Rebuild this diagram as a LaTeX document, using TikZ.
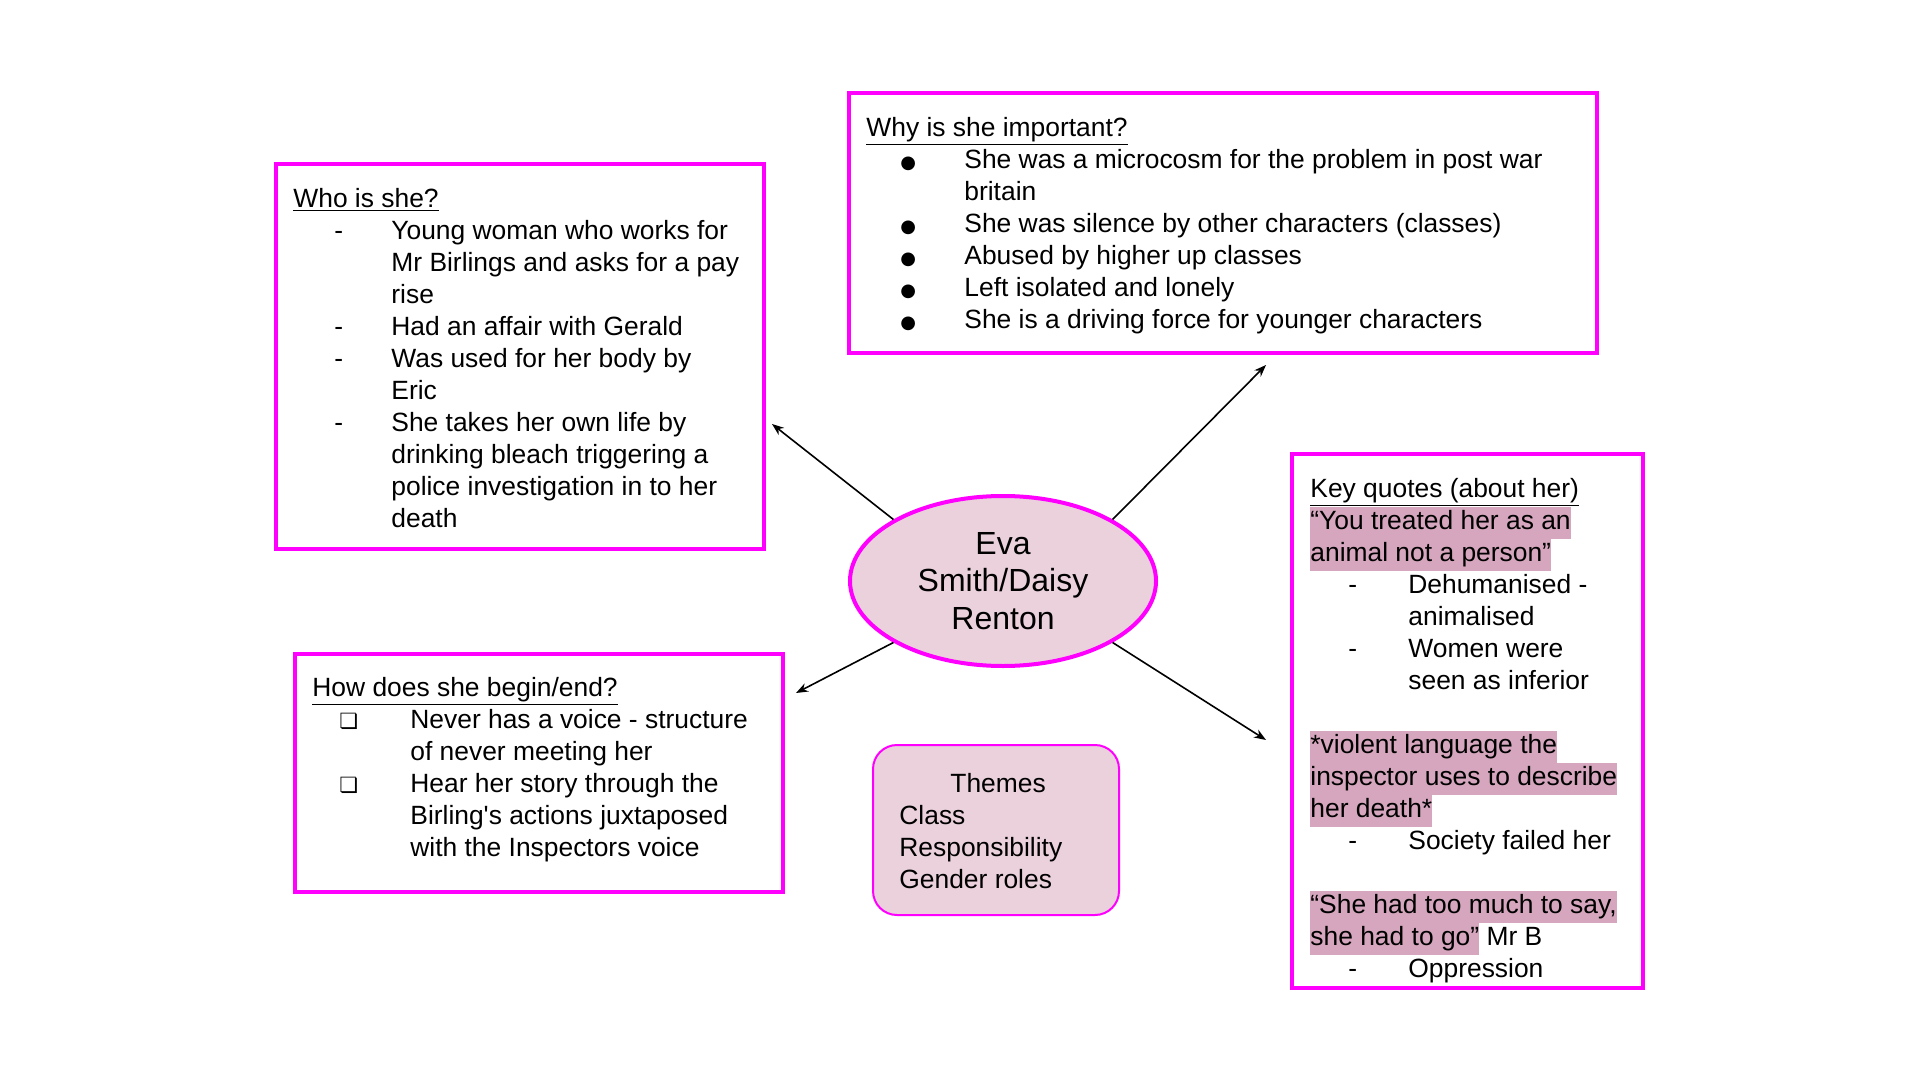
\documentclass[tikz,border=0pt]{standalone}
\usepackage{fontspec}
\setmainfont{Liberation Sans}
\newfontfamily\dingfont{DejaVu Sans}
\usetikzlibrary{shapes.geometric,arrows.meta}

\definecolor{framepink}{HTML}{FF00FF}
\definecolor{softpink}{HTML}{EAD1DC}
\definecolor{quotepink}{HTML}{D5A6BD}

% marker + hanging indent for the list lines
\newcommand{\mk}[2]{\makebox[49pt][l]{\hspace*{#1}#2}}
\newcommand{\ind}{\hspace*{49pt}}
\newcommand{\hl}[1]{{\fboxsep=0pt\colorbox{quotepink}{\strut #1}}}
\newcommand{\sqmark}{{\dingfont\fontsize{10.5}{10.5}\selectfont ❏}}
\newcommand{\dotmark}{{\dingfont\fontsize{9}{9}\selectfont ●}}

\begin{document}
\begin{tikzpicture}[x=0.5pt,y=-0.5pt,
    frame/.style={draw=framepink, line width=2pt},
    listtext/.style={anchor=north west, inner sep=0pt, align=left,
        font=\fontsize{13.2}{16}\selectfont},
    hub/.style={ellipse, draw=framepink, line width=2pt, fill=softpink,
        minimum width=153pt, minimum height=85pt, inner sep=0pt, align=center,
        font=\fontsize{16}{18.75}\selectfont},
    link/.style={-{Stealth[length=6pt,width=4.5pt]}, line width=0.8pt}]
\fill[white] (0,0) rectangle (1920,1080);
\useasboundingbox (0,0) rectangle (1920,1080);

% boxes
\draw[frame] (276,164) rectangle (764,549);
\draw[frame] (849,93) rectangle (1597,353);
\draw[frame] (1292,454) rectangle (1643,988);
\draw[frame] (295,654) rectangle (783,892);
\draw[draw=framepink, line width=1pt, fill=softpink, rounded corners=12pt]
    (873,745) rectangle (1119,915);

\node[listtext] (who) at (293,188) {\underline{Who is she?}\\
\mk{20.5pt}{-}Young woman who works for\\
\ind Mr Birlings and asks for a pay\\
\ind rise\\
\mk{20.5pt}{-}Had an affair with Gerald\\
\mk{20.5pt}{-}Was used for her body by\\
\ind Eric\\
\mk{20.5pt}{-}She takes her own life by\\
\ind drinking bleach triggering a\\
\ind police investigation in to her\\
\ind death};

\node[listtext] (why) at (866,117) {\underline{Why is she important?}\\
\mk{17pt}{\dotmark}She was a microcosm for the problem in post war\\
\ind britain\\
\mk{17pt}{\dotmark}She was silence by other characters (classes)\\
\mk{17pt}{\dotmark}Abused by higher up classes\\
\mk{17pt}{\dotmark}Left isolated and lonely\\
\mk{17pt}{\dotmark}She is a driving force for younger characters};

\node[listtext] (quotes) at (1310,478) {\underline{Key quotes (about her)}\\
\hl{“You treated her as an}\\
\hl{animal not a person”}\\
\mk{19pt}{-}Dehumanised -\\
\ind animalised\\
\mk{19pt}{-}Women were\\
\ind seen as inferior\\
\mbox{}\\
\hl{*violent language the}\\
\hl{inspector uses to describe}\\
\hl{her death*}\\
\mk{19pt}{-}Society failed her\\
\mbox{}\\
\hl{“She had too much to say,}\\
\hl{she had to go”} Mr B\\
\mk{19pt}{-}Oppression};

\node[listtext] (begin) at (312,677) {\underline{How does she begin/end?}\\
\mk{13.5pt}{\sqmark}Never has a voice - structure\\
\ind of never meeting her\\
\mk{13.5pt}{\sqmark}Hear her story through the\\
\ind Birling\textquotesingle s actions juxtaposed\\
\ind with the Inspectors voice};

\node[listtext] (themes) at (899,773) {\hspace*{25.5pt}Themes\\
Class\\
Responsibility\\
Gender roles};

\node[hub] (eva) at (1003,581) {Eva\\ Smith/Daisy\\ Renton};

% arrow ends
\coordinate (whoend) at (772,424);
\coordinate (whyend) at (1266,365);
\coordinate (beginend) at (796,693);
\coordinate (quotesend) at (1266,740);

\draw[link] (eva.north west) -- (whoend);
\draw[link] (eva.north east) -- (whyend);
\draw[link] (eva.south west) -- (beginend);
\draw[link] (eva.south east) -- (quotesend);
\end{tikzpicture}
\end{document}
